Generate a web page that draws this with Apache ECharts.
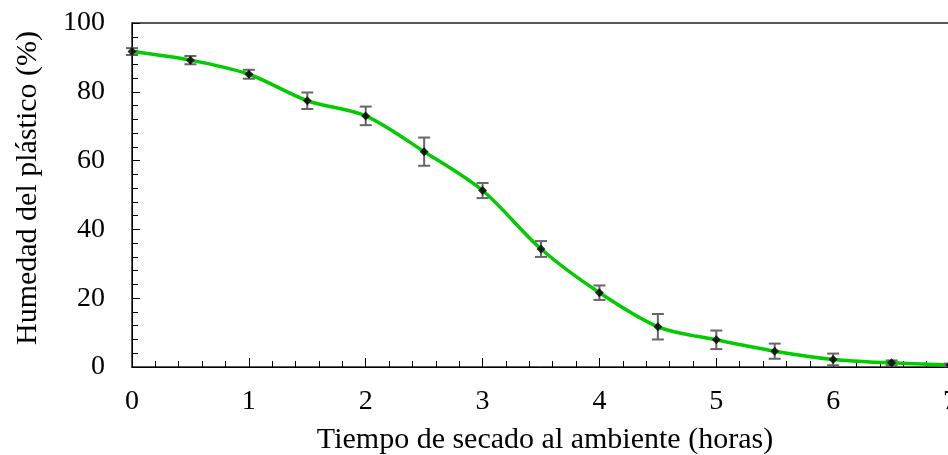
<!DOCTYPE html>
<html>
<head>
<meta charset="utf-8">
<script src="https://cdn.jsdelivr.net/npm/echarts@6/dist/echarts.min.js"></script>
<style>
html,body{margin:0;padding:0;background:#fff;}
#chart{width:948px;height:455px;}
</style>
</head>
<body>
<div id="chart"></div>
<script>
// Drying time (hours), mean plastic moisture (%) and its standard deviation
const hours = [0, 0.5, 1, 1.5, 2, 2.5, 3, 3.5, 4, 4.5, 5, 5.5, 6, 6.5, 7];
const moisture = [91.7, 89.2, 85.1, 77.4, 73.0, 62.6, 51.3, 34.3, 21.6, 11.7, 7.9, 4.6, 2.2, 1.2, 0.6];
const stdDev = [1.0, 1.2, 1.3, 2.4, 2.7, 4.1, 2.2, 2.3, 2.1, 3.7, 2.7, 2.2, 1.7, 0.7, 0.4];
const yTicks = [0, 20, 40, 60, 80, 100];
const xTicks = [0, 1, 2, 3, 4, 5, 6, 7];
const xTitle = 'Tiempo de secado al ambiente (horas)';
const yTitle = 'Humedad del plástico (%)';

const serif = '"Liberation Serif", "Times New Roman", serif';
const points = hours.map((h, i) => [h, moisture[i]]);
const bars = hours.map((h, i) => [h, moisture[i] - stdDev[i], moisture[i] + stdDev[i]]);

const chart = echarts.init(document.getElementById('chart'));
chart.setOption({
  animation: false,
  grid: {
    left: 132, top: 23, width: 818, bottom: 88,
    outerBoundsMode: 'none', containLabel: false,
    show: true, borderColor: '#222', borderWidth: 1.5
  },
  graphic: [
    {
      type: 'text', x: 545, y: 440,
      style: { text: xTitle, font: '30px ' + serif, fill: '#000', align: 'center', verticalAlign: 'middle' }
    },
    {
      type: 'text', x: 28, y: 188, rotation: Math.PI / 2,
      style: { text: yTitle, font: '30px ' + serif, fill: '#000', align: 'center', verticalAlign: 'middle' }
    }
  ],
  xAxis: {
    type: 'value', min: 0, max: 7, interval: 1,
    axisLine: { lineStyle: { color: '#000', width: 1 } },
    axisTick: { inside: true, length: 9, lineStyle: { color: '#000' } },
    minorTick: { show: true, splitNumber: 5, length: 6, lineStyle: { color: '#000' } },
    axisLabel: { fontFamily: serif, fontSize: 28, color: '#000', margin: 21, showMaxLabel: true,
      formatter: v => xTicks.includes(v) ? String(v) : '' },
    splitLine: { show: false }
  },
  yAxis: {
    type: 'value', min: 0, max: 100, interval: 20,
    axisLine: { show: true, lineStyle: { color: '#000', width: 1 } },
    axisTick: { show: true, inside: true, length: 8, lineStyle: { color: '#000' } },
    minorTick: { show: true, splitNumber: 5, length: 6, lineStyle: { color: '#000' } },
    axisLabel: { fontFamily: serif, fontSize: 28, color: '#000', margin: 27,
      formatter: v => yTicks.includes(v) ? String(v) : '' },
    splitLine: { show: false }
  },
  series: [
    {
      type: 'line', data: points, smooth: 0.3,
      symbol: 'none',
      lineStyle: { color: '#00cc00', width: 3.5 },
      z: 2
    },
    {
      type: 'custom', data: bars, z: 3,
      renderItem: (params, api) => {
        const x = api.value(0);
        const lo = api.coord([x, api.value(1)]);
        const hi = api.coord([x, api.value(2)]);
        const cap = 6;
        const style = { stroke: '#666', lineWidth: 2 };
        return {
          type: 'group',
          children: [
            { type: 'line', shape: { x1: lo[0], y1: lo[1], x2: hi[0], y2: hi[1] }, style },
            { type: 'line', shape: { x1: lo[0] - cap, y1: lo[1], x2: lo[0] + cap, y2: lo[1] }, style },
            { type: 'line', shape: { x1: hi[0] - cap, y1: hi[1], x2: hi[0] + cap, y2: hi[1] }, style }
          ]
        };
      }
    },
    {
      type: 'scatter', data: points, symbol: 'diamond', symbolSize: 9,
      itemStyle: { color: '#000' }, z: 4
    }
  ]
});
</script>
</body>
</html>
